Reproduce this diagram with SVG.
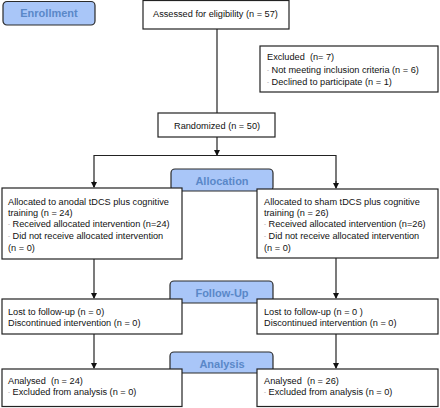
<svg xmlns="http://www.w3.org/2000/svg" width="440" height="408" viewBox="0 0 440 408">
<style>
.box{fill:#fff;stroke:#222;stroke-width:1.2}
.stage{fill:#a9c6f8;stroke:#2a2a2a;stroke-width:1.2}
.st{font-family:"Liberation Sans",Arial,sans-serif;font-weight:bold;font-size:11px;fill:#5a88c8;text-anchor:middle}
.t{font-family:"Liberation Sans",Arial,sans-serif;font-size:9.2px;fill:#111}
.b{font-size:6px;fill:#888}
.ln{fill:none;stroke:#222;stroke-width:1.2}
</style>
<defs>
<marker id="ah" markerWidth="6" markerHeight="6" refX="5" refY="3" orient="auto" markerUnits="userSpaceOnUse">
<path d="M0,0 L6,3 L0,6 Z" fill="#111"/>
</marker>
</defs>
<g id="connectors">
<line class="ln" x1="217" y1="29" x2="217" y2="113"/>
<line class="ln" x1="217" y1="137" x2="217" y2="155" marker-end="url(#ah)"/>
<polyline class="ln" points="94,187 94,155.5 336,155.5 336,187"/>
<line class="ln" x1="94" y1="181" x2="94" y2="187" marker-end="url(#ah)"/>
<line class="ln" x1="336" y1="181" x2="336" y2="188" marker-end="url(#ah)"/>
<line class="ln" x1="94" y1="259" x2="94" y2="298" marker-end="url(#ah)"/>
<line class="ln" x1="336" y1="258" x2="336" y2="298" marker-end="url(#ah)"/>
<line class="ln" x1="94" y1="334" x2="94" y2="368" marker-end="url(#ah)"/>
<line class="ln" x1="336" y1="334" x2="336" y2="368" marker-end="url(#ah)"/>
</g>
<g id="enrollment">
<rect class="stage" x="3" y="1.5" width="92" height="23.5" rx="4"/>
<text class="st" x="49" y="17">Enrollment</text>
</g>
<g id="assessed">
<rect class="box" x="143" y="0.5" width="146" height="28.5"/>
<text class="t" x="153" y="16.5">Assessed for eligibility (n = 57)</text>
</g>
<g id="excluded">
<rect class="box" x="260" y="46" width="178" height="46"/>
<text class="t" x="267" y="60" xml:space="preserve">Excluded  (n= 7)</text>
<text class="t" x="267" y="73"><tspan class="b" dy="-1">-</tspan><tspan dy="1">  Not meeting inclusion criteria (n = 6)</tspan></text>
<text class="t" x="267" y="84.5"><tspan class="b" dy="-1">-</tspan><tspan dy="1">  Declined to participate (n = 1)</tspan></text>
</g>
<g id="randomized">
<rect class="box" x="158" y="113" width="117" height="24"/>
<text class="t" x="174" y="129">Randomized (n = 50)</text>
</g>
<g id="allocation">
<rect class="stage" x="171" y="169" width="102" height="22" rx="4"/>
<text class="st" x="222" y="185">Allocation</text>
</g>
<g id="alloc-left">
<rect class="box" x="2" y="188" width="180" height="71"/>
<text class="t" x="8" y="204.5">Allocated to anodal tDCS plus cognitive</text>
<text class="t" x="8" y="215.5">training (n = 24)</text>
<text class="t" x="8" y="227"><tspan class="b" dy="-1">-</tspan><tspan dy="1"> Received allocated intervention (n=24)</tspan></text>
<text class="t" x="8" y="239"><tspan class="b" dy="-1">-</tspan><tspan dy="1"> Did not receive allocated intervention</tspan></text>
<text class="t" x="8" y="250.5">(n = 0)</text>
</g>
<g id="alloc-right">
<rect class="box" x="257" y="189" width="181" height="69"/>
<text class="t" x="264" y="205">Allocated to sham tDCS plus cognitive</text>
<text class="t" x="264" y="215.5">training (n = 26)</text>
<text class="t" x="264" y="227"><tspan class="b" dy="-1">-</tspan><tspan dy="1"> Received allocated intervention (n=26)</tspan></text>
<text class="t" x="264" y="239"><tspan class="b" dy="-1">-</tspan><tspan dy="1"> Did not receive allocated intervention</tspan></text>
<text class="t" x="264" y="250.5">(n = 0)</text>
</g>
<g id="followup">
<rect class="stage" x="170" y="281" width="103" height="22" rx="4"/>
<text class="st" x="222" y="297">Follow-Up</text>
</g>
<g id="follow-left">
<rect class="box" x="2" y="299" width="180" height="35"/>
<text class="t" x="8" y="315">Lost to follow-up (n = 0)</text>
<text class="t" x="8" y="326">Discontinued intervention (n = 0)</text>
</g>
<g id="follow-right">
<rect class="box" x="257" y="299" width="181" height="35"/>
<text class="t" x="264" y="315">Lost to follow-up (n = 0 )</text>
<text class="t" x="264" y="326">Discontinued intervention (n = 0)</text>
</g>
<g id="analysis">
<rect class="stage" x="170" y="352" width="103" height="21" rx="4"/>
<text class="st" x="222" y="367.5">Analysis</text>
</g>
<g id="analysis-left">
<rect class="box" x="2" y="369" width="180" height="37.5"/>
<text class="t" x="8" y="384" xml:space="preserve">Analysed  (n = 24)</text>
<text class="t" x="8" y="395"><tspan class="b" dy="-1">-</tspan><tspan dy="1"> Excluded from analysis (n = 0)</tspan></text>
</g>
<g id="analysis-right">
<rect class="box" x="257" y="369" width="181" height="37.5"/>
<text class="t" x="264" y="384" xml:space="preserve">Analysed  (n = 26)</text>
<text class="t" x="264" y="395"><tspan class="b" dy="-1">-</tspan><tspan dy="1"> Excluded from analysis (n = 0)</tspan></text>
</g>
</svg>
